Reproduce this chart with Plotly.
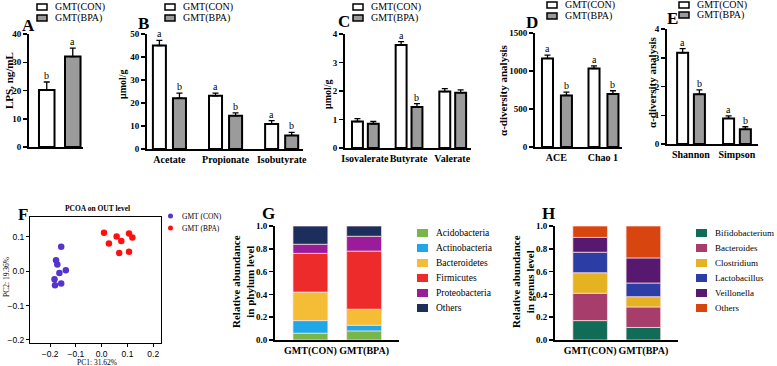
import plotly.graph_objects as go

W, H = 777, 366
SERIF = "Liberation Serif, Times New Roman, serif"
SANS = "Liberation Sans, Arial, sans-serif"

# ---------------- data ----------------
groups = ["GMT(CON)", "GMT(BPA)"]
group_colors = ["white", "#9b9b9b"]

# A: LPS
lps_cats = ["LPS"]
lps_con = [20.2]
lps_con_err = [2.8]
lps_bpa = [32.0]
lps_bpa_err = [3.0]
lps_let_con = ["b"]
lps_let_bpa = ["a"]

# B: SCFA (major)
scfa1_cats = ["Acetate", "Propionate", "Isobutyrate"]
scfa1_con = [45.0, 23.1, 10.9]
scfa1_con_err = [2.2, 1.2, 1.4]
scfa1_bpa = [22.1, 14.5, 5.9]
scfa1_bpa_err = [2.2, 1.2, 1.3]
scfa1_let_con = ["a", "a", "a"]
scfa1_let_bpa = ["b", "b", "b"]

# C: SCFA (minor)
scfa2_cats = ["Isovalerate", "Butyrate", "Valerate"]
scfa2_con = [0.93, 3.61, 1.98]
scfa2_con_err = [0.10, 0.12, 0.10]
scfa2_bpa = [0.85, 1.44, 1.94]
scfa2_bpa_err = [0.08, 0.12, 0.10]
scfa2_let_con = ["", "a", ""]
scfa2_let_bpa = ["", "b", ""]

# D: alpha diversity (richness)
rich_cats = ["ACE", "Chao 1"]
rich_con = [1165, 1033]
rich_con_err = [44, 35]
rich_bpa = [678, 698]
rich_bpa_err = [45, 42]
rich_let_con = ["a", "a"]
rich_let_bpa = ["b", "b"]

# E: alpha diversity (indices)
div_cats = ["Shannon", "Simpson"]
div_con = [3.17, 0.89]
div_con_err = [0.15, 0.09]
div_bpa = [1.73, 0.51]
div_bpa_err = [0.15, 0.09]
div_let_con = ["a", "a"]
div_let_bpa = ["b", "b"]

# F: PCoA
pcoa_groups = ["GMT (CON)", "GMT (BPA)"]
pcoa_colors = ["#5533cc", "#ff1010"]
pc1_con = [-0.157, -0.177, -0.172, -0.139, -0.164, -0.183, -0.157, -0.181]
pc2_con = [0.071, 0.032, 0.020, 0.003, -0.005, -0.023, -0.036, -0.041]
pc1_bpa = [0.009, 0.028, 0.058, 0.076, 0.068, 0.106, 0.119, 0.106]
pc2_bpa = [0.112, 0.081, 0.101, 0.088, 0.053, 0.110, 0.098, 0.057]

# G: phylum level
samples = ["GMT(CON)", "GMT(BPA)"]
phyla = ["Acidobacteria", "Actinobacteria", "Bacteroidetes", "Firmicutes", "Proteobacteria", "Others"]
phyla_colors = ["#79b64a", "#1ea8e8", "#f5bd35", "#ee2b2b", "#9a1c9b", "#1b2e5c"]
phyla_con = [0.06, 0.11, 0.25, 0.34, 0.08, 0.16]
phyla_bpa = [0.08, 0.05, 0.14, 0.51, 0.13, 0.09]

# H: genus level
genera = ["Bifidobacterium", "Bacteroides", "Clostridium", "Lactobacillus", "Veillonella", "Others"]
genera_colors = ["#106b57", "#a63d6b", "#e5b321", "#2c3ea6", "#57186f", "#d8450f"]
genera_con = [0.17, 0.24, 0.18, 0.18, 0.13, 0.10]
genera_bpa = [0.11, 0.18, 0.09, 0.12, 0.22, 0.28]


def px(x):
    return x / W


def py(y):
    return 1 - y / H


fig = go.Figure()
layout = dict(
    template="none",
    width=W, height=H, margin=dict(l=0, r=0, t=0, b=0, pad=0, autoexpand=False),
    paper_bgcolor="white", plot_bgcolor="white",
    barmode="overlay", showlegend=False,
    font=dict(family=SERIF, color="black", size=10),
)
annotations = []
shapes = []


def text(x, y, s, size=10, bold=False, angle=0, xanchor="center", yanchor="middle", family=SERIF):
    annotations.append(dict(
        x=px(x), y=py(y), xref="paper", yref="paper", text=s, showarrow=False,
        textangle=angle, xanchor=xanchor, yanchor=yanchor,
        font=dict(family=family, size=size, color="black", weight="bold" if bold else "normal"),
    ))


def bar_legend(bx, ty):
    for i, g in enumerate(groups):
        yc = ty[i]
        shapes.append(dict(type="rect", xref="paper", yref="paper",
                           x0=px(bx), x1=px(bx + 10), y0=py(yc + 3), y1=py(yc - 3),
                           fillcolor=group_colors[i], line=dict(color="black", width=1.5)))
        text(bx + 16, yc, g, size=10, xanchor="left")


def bar_panel(k, cats, vals, errs, lets, xdom, ydom, yrange, dtick, width, offsets, xrange,
              show_x=True):
    xa, ya = f"x{k}", f"y{k}"
    for gi in range(2):
        fig.add_trace(go.Bar(
            x=cats, y=vals[gi], name=groups[gi], width=width, offset=offsets[gi],
            marker=dict(color=group_colors[gi], line=dict(color="black", width=2)),
            error_y=dict(type="data", array=errs[gi], arrayminus=[0] * len(cats),
                         symmetric=False, color="black", thickness=1.3, width=3),
            xaxis=xa, yaxis=ya, showlegend=False,
        ))
        for i, c in enumerate(cats):
            if lets[gi][i]:
                annotations.append(dict(
                    x=i + offsets[gi] + width / 2, y=vals[gi][i] + errs[gi][i],
                    xref=xa, yref=ya, text=lets[gi][i], showarrow=False,
                    yanchor="bottom", xanchor="center", yshift=-1,
                    font=dict(family=SERIF, size=10, color="black"),
                ))
    sfx = "" if k == 1 else str(k)
    layout["xaxis" + sfx] = dict(
        domain=[px(xdom[0]), px(xdom[1])], anchor=ya, type="category", range=xrange,
        showline=True, linewidth=2, linecolor="black", ticks="", showgrid=False,
        zeroline=False, showticklabels=show_x, fixedrange=True, tickangle=0, automargin=False,
        tickfont=dict(family=SERIF, size=10, weight="bold", color="black"),
    )
    layout["yaxis" + sfx] = dict(
        domain=[py(ydom[0]), py(ydom[1])], anchor=xa, range=yrange, dtick=dtick, tick0=0,
        showline=True, linewidth=2, linecolor="black", ticks="outside", ticklen=4,
        tickwidth=1.5, tickcolor="black", showgrid=False, zeroline=False, fixedrange=True,
        automargin=False,
        tickfont=dict(family=SERIF, size=9, weight="bold", color="black"),
    )


# A
bar_panel(1, lps_cats, [lps_con, lps_bpa], [lps_con_err, lps_bpa_err], [lps_let_con, lps_let_bpa],
          (29, 83), (147, 34), [0, 40], 10, 0.277, [-0.375, 0.089], [-0.553, 0.41], show_x=False)
# B
bar_panel(2, scfa1_cats, [scfa1_con, scfa1_bpa], [scfa1_con_err, scfa1_bpa_err],
          [scfa1_let_con, scfa1_let_bpa],
          (147, 303), (149, 34), [0, 50], 10, 0.232, [-0.295, 0.0625], [-0.40, 2.38])
# C
bar_panel(3, scfa2_cats, [scfa2_con, scfa2_bpa], [scfa2_con_err, scfa2_bpa_err],
          [scfa2_let_con, scfa2_let_bpa],
          (345, 471), (148, 34), [0, 4], 1, 0.25, [-0.295, 0.068], [-0.455, 2.43])
# D
bar_panel(4, rich_cats, [rich_con, rich_bpa], [rich_con_err, rich_bpa_err],
          [rich_let_con, rich_let_bpa],
          (535, 622), (147, 33), [0, 1500], 500, 0.237, [-0.31, 0.097], [-0.46, 1.41])
# E
bar_panel(5, div_cats, [div_con, div_bpa], [div_con_err, div_bpa_err],
          [div_let_con, div_let_bpa],
          (667, 758), (144, 29), [0, 4], 1, 0.24, [-0.30, 0.065], [-0.52, 1.46])

# legends for A-E
bar_legend(37, (7, 18))
bar_legend(165, (7, 18))
bar_legend(353, (7, 18))
bar_legend(547, (5, 16))
bar_legend(679, (5, 15))

# y titles A-E
text(9, 81, "LPS, ng/mL", size=11, bold=True, angle=-90)
text(122, 84, "μmol/g", size=10, bold=True, angle=-90)
text(327, 94, "μmol/g", size=10, bold=True, angle=-90)
text(503, 90, "α-diversity analysis", size=11, bold=True, angle=-90)
text(652, 82, "α-diversity analysis", size=11, bold=True, angle=-90)

# panel letters
for L, (lx, ly) in zip("ABCDEFGH", [(28, 26), (143, 24), (344, 22), (532, 23), (672, 19),
                                    (23, 214), (268, 213), (548, 213)]):
    text(lx, ly, L, size=17, bold=True)

# F: PCoA
for gi, (xs, ys) in enumerate([(pc1_con, pc2_con), (pc1_bpa, pc2_bpa)]):
    fig.add_trace(go.Scatter(
        x=xs, y=ys, mode="markers", name=pcoa_groups[gi],
        marker=dict(color=pcoa_colors[gi], size=6.5),
        xaxis="x6", yaxis="y6", showlegend=False,
    ))
fax = dict(showline=True, mirror=True, linewidth=1, linecolor="black", ticks="outside",
           ticklen=3, tickwidth=1, tickcolor="black", showgrid=False, zeroline=False,
           tickformat=".1f", fixedrange=True, automargin=False,
           tickfont=dict(family=SANS, size=8.5, color="black"))
layout["xaxis6"] = dict(fax, domain=[px(30), px(161)], anchor="y6", range=[-0.278, 0.23],
                        tickvals=[-0.2, -0.1, 0.0, 0.1, 0.2])
layout["yaxis6"] = dict(fax, domain=[py(343), py(217)], anchor="x6", range=[-0.209, 0.158],
                        tickvals=[-0.2, -0.1, 0.0, 0.1])
text(97, 208, "PCOA on OUT level", size=7.5, bold=True)
text(97, 362, "PC1: 31.62%", size=7.5)
text(6, 277, "PC2: 19.36%", size=7.5, angle=-90)
for gi, g in enumerate(pcoa_groups):
    yc = 216 + 12 * gi
    shapes.append(dict(type="circle", xref="paper", yref="paper",
                       x0=px(168), x1=px(173), y0=py(yc + 2.5), y1=py(yc - 2.5),
                       fillcolor=pcoa_colors[gi], line=dict(width=0)))
    text(180, yc, g, size=7.5, xanchor="left")


# G / H stacked bars
def stack_panel(k, names, colors, con, bpa, xdom, legend_x, ylab, legend_size):
    xa, ya = f"x{k}", f"y{k}"
    base_con, base_bpa = 0.0, 0.0
    for i, n in enumerate(names):
        fig.add_trace(go.Bar(
            x=samples, y=[con[i], bpa[i]], base=[base_con, base_bpa], name=n,
            width=0.65, offset=-0.325,
            marker=dict(color=colors[i], line=dict(color="rgba(255,225,225,0.9)", width=0.8)),
            xaxis=xa, yaxis=ya, showlegend=False,
        ))
        base_con += con[i]
        base_bpa += bpa[i]
        yc = 233 + 15 * i
        shapes.append(dict(type="rect", xref="paper", yref="paper",
                           x0=px(legend_x), x1=px(legend_x + 11), y0=py(yc + 4), y1=py(yc - 4),
                           fillcolor=colors[i], line=dict(width=0)))
        text(legend_x + 17, yc, n, size=legend_size, xanchor="left")
    layout[f"xaxis{k}"] = dict(
        domain=[px(xdom[0]), px(xdom[1])], anchor=ya, type="category", range=[-0.66, 1.65],
        showline=True, linewidth=2, linecolor="black", ticks="", showgrid=False,
        zeroline=False, fixedrange=True, tickangle=0, automargin=False,
        tickfont=dict(family=SERIF, size=10, weight="bold", color="black"),
    )
    layout[f"yaxis{k}"] = dict(
        domain=[py(340), py(226)], anchor=xa, range=[0, 1], dtick=0.2, tick0=0,
        tickformat=".1f", showline=True, linewidth=2, linecolor="black", ticks="outside",
        ticklen=4, tickwidth=1.5, tickcolor="black", showgrid=False, zeroline=False,
        fixedrange=True, automargin=False,
        tickfont=dict(family=SERIF, size=9, weight="bold", color="black"),
    )
    text(ylab, 282, "Relative abundance<br>" + ("in phylum level" if k == 7 else "in genus level"),
         size=11, bold=True, angle=-90)


stack_panel(7, phyla, phyla_colors, phyla_con, phyla_bpa, (275, 399), 417, 243, 9.5)
stack_panel(8, genera, genera_colors, genera_con, genera_bpa, (555, 678), 696, 523, 9)

layout["annotations"] = annotations
layout["shapes"] = shapes
fig.update_layout(**layout)
fig.write_html(
    "out.html",
    config={"displayModeBar": False, "staticPlot": True},
    post_script=("document.documentElement.style.margin='0px';"
                 "document.body.style.margin='0px';document.body.style.padding='0px';"
                 "document.body.style.overflow='hidden';"),
)
